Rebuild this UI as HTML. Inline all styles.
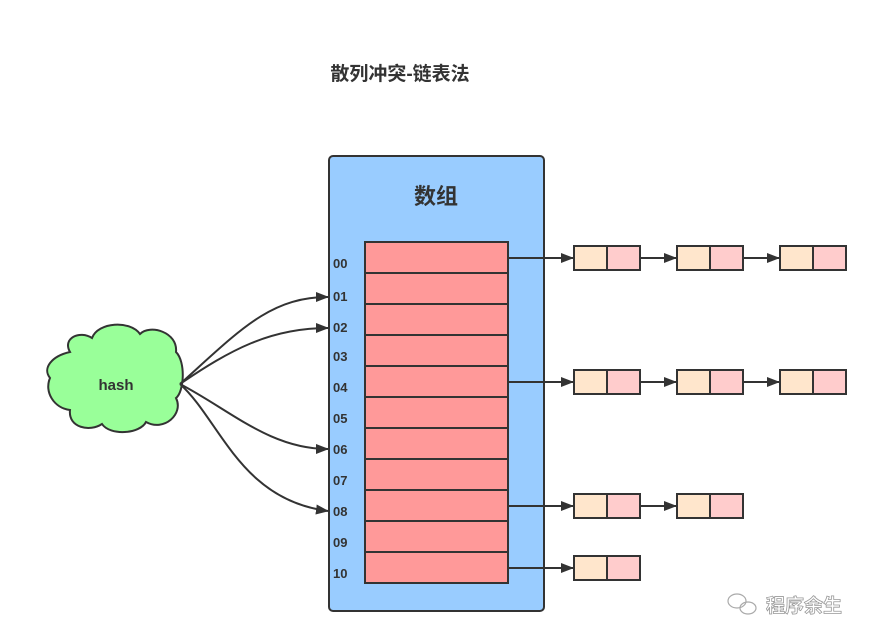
<!DOCTYPE html>
<html><head><meta charset="utf-8"><style>
html,body{margin:0;padding:0;background:#fff;}
svg{display:block;}
text{font-family:"Liberation Sans","Noto Sans CJK SC",sans-serif;font-weight:bold;fill:#333;}
</style></head><body>
<svg width="878" height="644" viewBox="0 0 878 644" xmlns="http://www.w3.org/2000/svg">
<defs>
<marker id="ah" markerWidth="13" markerHeight="10" refX="12" refY="5" orient="auto" markerUnits="userSpaceOnUse">
<path d="M0,0 L13,5 L0,10 Z" fill="#333"/>
</marker>
</defs>
<text x="400" y="80" font-size="19" text-anchor="middle">散列冲突-链表法</text>
<rect x="329" y="156" width="215" height="455" rx="4" fill="#99ccff" stroke="#333" stroke-width="2"/>
<text x="436" y="204" font-size="22" text-anchor="middle">数组</text>
<g stroke="#333" stroke-width="2" fill="#ff9999">
<rect x="365" y="242" width="143" height="31"/>
<rect x="365" y="273" width="143" height="31"/>
<rect x="365" y="304" width="143" height="31"/>
<rect x="365" y="335" width="143" height="31"/>
<rect x="365" y="366" width="143" height="31"/>
<rect x="365" y="397" width="143" height="31"/>
<rect x="365" y="428" width="143" height="31"/>
<rect x="365" y="459" width="143" height="31"/>
<rect x="365" y="490" width="143" height="31"/>
<rect x="365" y="521" width="143" height="31"/>
<rect x="365" y="552" width="143" height="31"/>
</g>
<g font-size="13">
<text x="333" y="268">00</text><text x="333" y="301">01</text><text x="333" y="332">02</text>
<text x="333" y="361">03</text><text x="333" y="392">04</text><text x="333" y="423">05</text>
<text x="333" y="454">06</text><text x="333" y="485">07</text><text x="333" y="516">08</text>
<text x="333" y="547">09</text><text x="333" y="578">10</text>
</g>
<path d="M70,352 C62,338 80,330 92,338 C98,322 130,320 140,334 C150,324 178,332 176,352 C186,362 184,392 176,398 C184,414 164,432 146,422 C140,434 110,436 102,424 C90,432 68,428 70,410 C54,408 44,392 50,378 C42,368 52,356 70,352 Z" fill="#99ff99" stroke="#333" stroke-width="2"/>
<text x="116" y="390" font-size="15" text-anchor="middle">hash</text>
<g stroke="#333" stroke-width="2" fill="none" marker-end="url(#ah)">
<path d="M180,384 C240,330 270,297 328,297"/>
<path d="M180,384 C230,350 270,328 328,328"/>
<path d="M180,384 C230,410 270,449 328,449"/>
<path d="M180,384 C220,420 240,500 328,511"/>
<path d="M508,258 H573"/><path d="M640,258 H676"/><path d="M743,258 H779"/>
<path d="M508,382 H573"/><path d="M640,382 H676"/><path d="M743,382 H779"/>
<path d="M508,506 H573"/><path d="M640,506 H676"/>
<path d="M508,568 H573"/>
</g>
<g stroke="#333" stroke-width="2">
<g id="n"><rect x="574" y="246" width="33" height="24" fill="#ffe6cc"/><rect x="607" y="246" width="33" height="24" fill="#ffcccc"/></g>
<use href="#n" x="103"/><use href="#n" x="206"/>
<use href="#n" y="124"/><use href="#n" x="103" y="124"/><use href="#n" x="206" y="124"/>
<use href="#n" y="248"/><use href="#n" x="103" y="248"/>
<use href="#n" y="310"/>
</g>
<g fill="none" stroke="#aaa" stroke-width="1.2">
<ellipse cx="737" cy="601" rx="9" ry="7"/><ellipse cx="748" cy="608" rx="8" ry="6"/>
</g>
<text x="766" y="612" font-size="19" font-weight="normal" style="fill:#fff;stroke:#999;stroke-width:0.8">程序余生</text>
</svg>
</body></html>
